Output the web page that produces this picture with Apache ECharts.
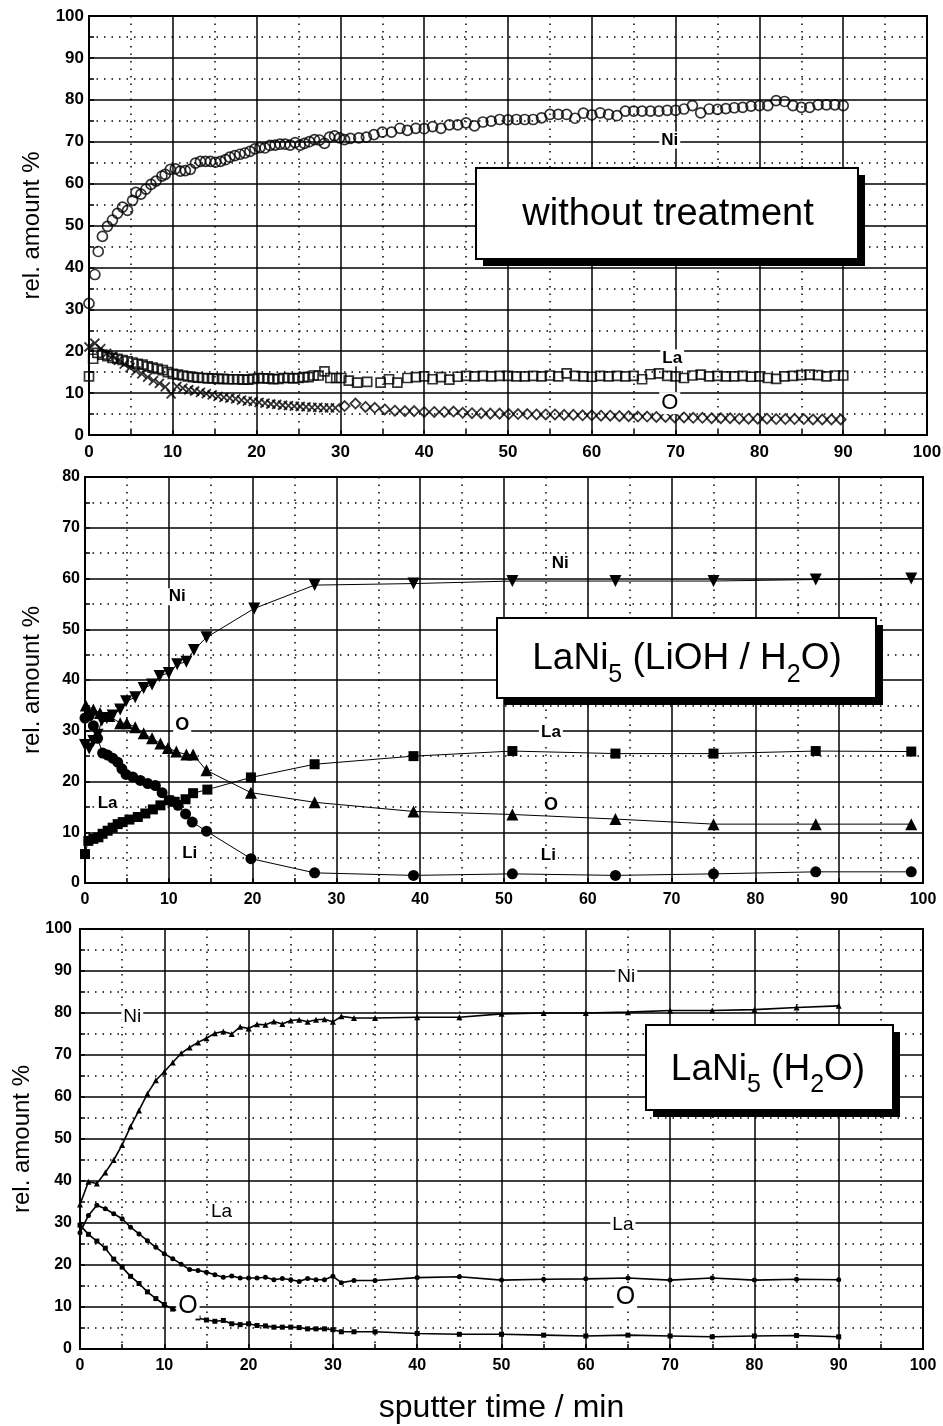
<!DOCTYPE html>
<html><head><meta charset="utf-8">
<script src="https://cdn.jsdelivr.net/npm/echarts@6/dist/echarts.min.js"></script>
<style>html,body{margin:0;padding:0;background:#fff}#c{width:943px;height:1426px}</style>
</head><body><div id="c"></div>
<script>
// ---------- DATA ----------
// Panel 1: without treatment
const p1Ni = [[0,31.4],[0.7,38.3],[1.1,43.8],[1.6,47.4],[2.2,49.8],[2.8,51.3],[3.4,52.9],[4.0,54.4],[4.6,53.6],[5.2,56],[5.6,57.9],[6.2,57.5],[6.8,58.7],[7.4,59.8],[8.0,60.6],[8.7,61.8],[9.1,62.2],[9.7,63.4],[10.3,63.5],[10.9,63],[11.5,63.1],[12.1,63.4],[12.7,64.9],[13.3,65.3],[13.9,65.3],[14.5,65.3],[15.1,65.1],[15.7,65.3],[16.3,65.7],[16.8,66.3],[17.4,66.7],[18.0,67],[18.6,67.3],[19.2,67.7],[19.8,68.3],[20.4,68.6],[21.0,68.5],[21.6,69.1],[22.2,69.2],[22.8,69.4],[23.4,69.4],[24.0,69.2],[24.6,69.8],[25.2,69.2],[25.7,69.6],[26.3,70],[26.9,70.5],[27.5,70.4],[28.1,69.6],[28.7,71.1],[29.3,71.4],[29.9,70.9],[30.5,70.5],[31.2,70.8],[32.2,70.9],[33.1,71.1],[34.0,71.7],[35.0,72.3],[36.1,72.3],[37.1,73.2],[38.0,72.7],[39.0,73.2],[40.0,73.1],[41.0,73.6],[42.0,73.2],[43.0,74],[44.0,74],[45.0,74.5],[46.0,73.8],[47,74.7],[48,74.9],[49,75.3],[50,75.2],[51,75.3],[52,75.3],[53,75.3],[54,75.7],[55,76.5],[56,76.5],[57,76.5],[58,75.6],[59,76.8],[60,76.4],[61,76.9],[62,76.5],[63,76.2],[64,77.3],[65,77.3],[66,77.3],[67,77.3],[68,77.3],[69,77.5],[70,77.5],[71,77.8],[72,78.6],[73,76.9],[74,77.8],[75,77.7],[76,77.9],[77,78.1],[78,78.2],[79,78.5],[80,78.6],[81,78.6],[82,79.8],[83,79.6],[84,78.6],[85,78.2],[86,78.2],[87,78.8],[88,78.8],[89,78.8],[90,78.6]];
const p1La = [[0,14],[0.5,18.2],[1.0,19.6],[1.6,19.2],[2.2,18.8],[2.8,18.4],[3.4,18.2],[4.0,17.9],[4.6,17.6],[5.2,17.3],[5.8,17.0],[6.4,16.8],[7.0,16.4],[7.6,16.1],[8.2,15.8],[8.8,15.5],[9.4,15.0],[10.0,14.6],[10.6,14.4],[11.2,14.2],[11.8,14.0],[12.4,13.8],[13.0,13.7],[13.6,13.6],[14.2,13.5],[14.8,13.5],[15.4,13.4],[16.0,13.4],[16.6,13.3],[17.2,13.3],[17.8,13.3],[18.4,13.2],[19.0,13.2],[19.6,13.4],[20.2,13.6],[20.8,13.5],[21.4,13.5],[22.0,13.3],[22.6,13.4],[23.2,13.6],[23.8,13.6],[24.4,13.5],[25.0,13.6],[25.6,13.8],[26.2,13.8],[26.8,14.2],[27.4,14.2],[28.1,15.2],[28.8,13.6],[29.5,13.6],[30.1,13.6],[31,13],[32,12.5],[33.2,12.7],[34.8,12.5],[35.8,13.3],[36.8,12.5],[38,13.6],[39,13.8],[40,14],[41,13.3],[42,13.8],[43,13.2],[44,13.9],[45,14.1],[46,14],[47,14.1],[48,14],[49,14.1],[50,14.1],[51,14],[52,14],[53,14.1],[54,14],[55,14.2],[56,14],[57,14.7],[58,14.1],[59,14],[60,13.9],[61,14.1],[62,14],[63,14.1],[64,14],[65,14.1],[66,13.3],[67,14.5],[68,14.7],[69,14.1],[70,14],[71,13.6],[72,14.2],[73,14.4],[74,14],[75,14.1],[76,14],[77,14],[78,14.1],[79,13.9],[80,14],[81,13.6],[82,13.4],[83,14],[84,14.1],[85,14.3],[86,14.4],[87,14.3],[88,14],[89,14.2],[90,14.2]];
const p1O = [[0,21],[0.7,21.9],[1.4,20.6],[2.1,19.5],[2.8,18.8],[3.5,17.8],[4.2,16.9],[4.9,16.1],[5.6,15.3],[6.3,14.6],[7.0,13.8],[7.7,13],[8.4,12.3],[9.1,11.5],[9.8,9.8],[10.5,11.6],[11.2,11.2],[11.9,10.8],[12.6,10.5],[13.3,10.2],[14.0,9.9],[14.7,9.6],[15.4,9.2],[16.1,9],[16.8,8.8],[17.5,8.6],[18.2,8.3],[18.9,8.1],[19.6,8],[20.3,7.8],[21.0,7.6],[21.7,7.4],[22.4,7.3],[23.1,7.1],[23.8,7],[24.5,6.9],[25.2,6.8],[25.9,6.7],[26.6,6.6],[27.3,6.6],[28.0,6.5],[28.7,6.5],[29.4,6.5],[30.5,6.9],[31.8,7.5],[33,6.7],[34.1,6.5],[35.3,6.1],[36.5,5.8],[37.7,5.7],[38.8,5.7],[40,5.5],[41.2,5.5],[42.4,5.5],[43.5,5.6],[44.6,5.3],[45.7,5.2],[46.8,5.2],[47.9,5.1],[49,5.1],[50.1,5.0],[51.2,5.0],[52.3,5.0],[53.4,4.9],[54.5,4.9],[55.6,4.9],[56.7,4.8],[57.8,4.8],[58.9,4.7],[60,4.7],[61.1,4.6],[62.2,4.6],[63.3,4.5],[64.4,4.5],[65.5,4.4],[66.6,4.4],[67.7,4.3],[68.8,4.3],[69.9,4.2],[71,4.2],[72.1,4.1],[73.2,4.1],[74.3,4.0],[75.4,4.0],[76.5,4.0],[77.6,3.9],[78.7,3.9],[79.8,3.9],[80.9,3.9],[82,3.8],[83.1,3.8],[84.2,3.8],[85.3,3.8],[86.4,3.7],[87.5,3.7],[88.6,3.7],[89.7,3.7]];
const p1Labels = [['Ni',69.3,70.4],['La',69.6,18.4],['O',69.3,7.6]];
const p1Title = ['without treatment'];

// Panel 2: LaNi5 (LiOH / H2O)
const p2Ni = [[0,27.2],[0.5,26.5],[1,28],[1.5,29.2],[2,32],[2.6,32.5],[3.3,33],[4.2,34.2],[4.9,35.8],[6,36.6],[7,38.4],[8,39.1],[8.9,40.8],[10,41.4],[11,43.1],[12.1,43.6],[13,45.9],[14.5,48.4],[20.2,54.1],[27.4,58.7],[39.2,59],[51,59.5],[63.3,59.5],[75,59.5],[87.2,59.8],[98.6,60]];
const p2La = [[0,5.7],[0.4,8.3],[1,8.7],[1.6,9],[2.1,9.7],[2.7,10.3],[3.3,10.9],[3.9,11.6],[4.5,12],[5.3,12.5],[6.3,13],[7.2,13.7],[8.1,14.5],[9,15.3],[10,16.3],[10.7,16],[12,16.5],[12.9,17.7],[14.6,18.4],[19.8,20.8],[27.4,23.4],[39.2,25],[51,26],[63.3,25.5],[75,25.5],[87.2,26],[98.6,25.9]];
const p2O = [[0.1,35],[1,34.2],[1.8,33.5],[2.9,32.9],[4.2,31.5],[5,31.5],[6,30.7],[7,29.5],[8,28.5],[9,27.5],[9.9,26.6],[10.9,25.9],[12.1,25.3],[12.9,25.3],[14.5,22.2],[19.8,17.8],[27.4,15.9],[39.2,14.1],[51,13.5],[63.3,12.6],[75,11.6],[87.2,11.6],[98.6,11.6]];
const p2Li = [[0,32.5],[0.5,33],[1,31],[1.5,28.5],[2.1,25.6],[2.7,25.2],[3.3,24.6],[3.9,23.8],[4.4,22.5],[4.9,21.4],[5.7,20.9],[6.6,20.2],[7.5,19.6],[8.4,19.2],[9.2,17.8],[10.3,16.2],[11.1,15.3],[12,13.6],[12.8,12],[14.5,10.2],[19.8,4.8],[27.4,2],[39.2,1.5],[51,1.8],[63.3,1.5],[75,1.8],[87.2,2.2],[98.6,2.2]];
const p2Labels = [['Ni',11,56.4],['O',11.6,31.1],['La',2.7,15.8],['Li',12.5,5.9],['Ni',56.7,62.9],['La',55.6,29.6],['O',55.6,15.4],['Li',55.3,5.5]];
const p2Title = ['LaNi','5',' (LiOH / H','2','O)'];

// Panel 3: LaNi5 (H2O)
const p3Ni = [[0,34.4],[1,39.8],[2,39.4],[3,42],[4,45],[5,48.6],[6,53],[7,56.8],[8,60.8],[9,64],[10,66],[11,68.2],[12,70.4],[13,71.8],[14,73],[15,74],[16,75.2],[17,75.6],[18,75],[19,76.7],[20,76.3],[21,77.3],[22,77.2],[23,78],[24,77.4],[25,78.2],[26,78.4],[27,77.9],[28,78.4],[29,78.5],[30,77.9],[31,79.2],[32.5,78.8],[35,78.8],[40,79],[45,79],[50,79.8],[55,80],[60,80],[65,80.2],[70,80.6],[75,80.6],[80,80.8],[85,81.3],[90,81.7]];
const p3La = [[0,27.7],[1,31.8],[2,34.2],[3,33.4],[4,32.2],[5,31],[6,29],[7,27.4],[8,25.8],[9,24.2],[10,22.7],[11,21.5],[12,20.2],[13,18.9],[14,18.7],[15,18.3],[16,17.7],[17,17.1],[18,17.4],[19,16.9],[20,16.9],[21,16.9],[22,17.1],[23,16.5],[24,16.8],[25,16.5],[26,16.1],[27,16.8],[28,16.5],[29,16.5],[30,17.3],[31,15.8],[32.5,16.3],[35,16.3],[40,17],[45,17.2],[50,16.4],[55,16.6],[60,16.7],[65,16.9],[70,16.4],[75,16.9],[80,16.4],[85,16.6],[90,16.5]];
const p3O = [[0,29.5],[1,27.3],[2,25.7],[3,24],[4,21.4],[5,19.5],[6,17.3],[7,15.6],[8,13.6],[9,12],[10,10.6],[11,9.5],[12,8.8],[13,8.2],[14,7.4],[15,6.9],[16,6.6],[17,6.8],[18,6],[19,5.8],[20,6],[21,5.6],[22,5.5],[23,5.2],[24,5.2],[25,5.2],[26,5.1],[27,4.8],[28,4.8],[29,4.8],[30,4.6],[31,4.1],[32.5,4.1],[35,4.1],[40,3.7],[45,3.5],[50,3.5],[55,3.3],[60,3.1],[65,3.3],[70,3.1],[75,2.9],[80,3.1],[85,3.2],[90,2.9]];
const p3Labels = [['Ni',6.2,79],['La',16.8,32.6],['O',12.8,10.2],['Ni',64.8,88.6],['La',64.4,29.5],['O',64.7,12.4]];
const p3Title = ['LaNi','5',' (H','2','O)'];

const xRange = [0, 100];
const yRanges = [[0, 100], [0, 80], [0, 100]];
const yAxisName = 'rel. amount %';
const xAxisName = 'sputter time / min';

// ---------- CHART ----------
const FONT = '"Liberation Sans", Arial, Helvetica, sans-serif';
const chart = echarts.init(document.getElementById('c'), null, {renderer: 'canvas'});

const gridsCfg = [
  {left: 89, top: 16, width: 838, height: 419},
  {left: 85, top: 477, width: 838, height: 406},
  {left: 80, top: 929, width: 843, height: 420}
];
const tickFont = [17, 16, 16];
const yLabMargin = [5, 5, 8];
const xLabMargin = [9, 9, 9];
const yNameGap = [44, 41, 43];

function xAxisFor(i) {
  const a = {
    type: 'value', gridIndex: i, min: xRange[0], max: xRange[1], interval: 10,
    axisLine: {show: true, onZero: false, lineStyle: {color: '#000', width: 2}},
    axisTick: {show: true, inside: true, length: 5, lineStyle: {color: '#000', width: 1.5}},
    minorTick: {show: true, splitNumber: 2, length: 5, lineStyle: {color: '#000', width: 1.5}},
    axisLabel: {color: '#000', fontSize: tickFont[i], fontWeight: 'bold', fontFamily: FONT, margin: xLabMargin[i]},
    splitLine: {show: true, lineStyle: {color: '#000', width: 1.5}},
    minorSplitLine: {show: true, lineStyle: {color: '#000', width: 1.5, type: [1.5, 6]}}
  };
  if (i === 2) {
    a.name = xAxisName; a.nameLocation = 'middle'; a.nameGap = 43;
    a.nameTextStyle = {fontSize: 32, fontFamily: FONT, color: '#000'};
  }
  return a;
}
function yAxisFor(i) {
  return {
    type: 'value', gridIndex: i, min: yRanges[i][0], max: yRanges[i][1], interval: 10,
    name: yAxisName, nameLocation: 'middle', nameGap: yNameGap[i], nameRotate: 90,
    nameTextStyle: {fontSize: 24, fontFamily: FONT, color: '#000'},
    axisLine: {show: true, onZero: false, lineStyle: {color: '#000', width: 2}},
    axisTick: {show: true, inside: true, length: 5, lineStyle: {color: '#000', width: 1.5}},
    minorTick: {show: true, splitNumber: 2, length: 5, lineStyle: {color: '#000', width: 1.5}},
    axisLabel: {color: '#000', fontSize: tickFont[i], fontWeight: 'bold', fontFamily: FONT, margin: yLabMargin[i]},
    splitLine: {show: true, lineStyle: {color: '#000', width: 1.5}},
    minorSplitLine: {show: true, lineStyle: {color: '#000', width: 1.5, type: [1.5, 6]}}
  };
}

const crossPath = 'path://M0,0L10,10M10,0L0,10';
const hollow = {color: 'rgba(0,0,0,0)', borderColor: '#000', borderWidth: 1.7};

const series = [
  // panel 1
  {type: 'scatter', xAxisIndex: 0, yAxisIndex: 0, data: p1Ni, symbol: 'circle', symbolSize: 10, itemStyle: hollow, silent: true},
  {type: 'scatter', xAxisIndex: 0, yAxisIndex: 0, data: p1La, symbol: 'rect', symbolSize: 9, itemStyle: hollow, silent: true},
  {type: 'scatter', xAxisIndex: 0, yAxisIndex: 0, data: p1O,
    symbol: v => (v[0] < 30 ? crossPath : 'diamond'),
    symbolSize: v => (v[0] < 30 ? 9 : [10, 10]),
    itemStyle: {color: 'rgba(0,0,0,0)', borderColor: '#000', borderWidth: 1.8}, silent: true},
  // panel 2
  {type: 'line', xAxisIndex: 1, yAxisIndex: 1, data: p2Ni, symbol: 'triangle', symbolRotate: 180, symbolSize: 12,
    showSymbol: true, itemStyle: {color: '#000'}, lineStyle: {color: '#000', width: 1}, silent: true},
  {type: 'line', xAxisIndex: 1, yAxisIndex: 1, data: p2La, symbol: 'rect', symbolSize: 10,
    showSymbol: true, itemStyle: {color: '#000'}, lineStyle: {color: '#000', width: 1}, silent: true},
  {type: 'line', xAxisIndex: 1, yAxisIndex: 1, data: p2O, symbol: 'triangle', symbolSize: 12,
    showSymbol: true, itemStyle: {color: '#000'}, lineStyle: {color: '#000', width: 1}, silent: true},
  {type: 'line', xAxisIndex: 1, yAxisIndex: 1, data: p2Li, symbol: 'circle', symbolSize: 11,
    showSymbol: true, itemStyle: {color: '#000'}, lineStyle: {color: '#000', width: 1}, silent: true},
  // panel 3
  {type: 'line', xAxisIndex: 2, yAxisIndex: 2, data: p3Ni, symbol: 'triangle', symbolSize: 6,
    showSymbol: true, itemStyle: {color: '#000'}, lineStyle: {color: '#000', width: 1.6}, silent: true},
  {type: 'line', xAxisIndex: 2, yAxisIndex: 2, data: p3La, symbol: 'circle', symbolSize: 5,
    showSymbol: true, itemStyle: {color: '#000'}, lineStyle: {color: '#000', width: 1.6}, silent: true},
  {type: 'line', xAxisIndex: 2, yAxisIndex: 2, data: p3O, symbol: 'rect', symbolSize: 5,
    showSymbol: true, itemStyle: {color: '#000'}, lineStyle: {color: '#000', width: 1.6}, silent: true}
];

// title boxes: text pieces alternate normal / subscript, laid out by measured widths
const measureCtx = document.createElement('canvas').getContext('2d');
function titleBox(rect, parts, cx, baseline, fs, sfs, drop) {
  const widths = parts.map((p, k) => {
    measureCtx.font = ((k % 2) ? sfs : fs) + 'px ' + FONT;
    return measureCtx.measureText(p).width;
  });
  const total = widths.reduce((a, b) => a + b, 0);
  let x = cx - total / 2;
  const texts = parts.map((p, k) => {
    const size = (k % 2) ? sfs : fs;
    const base = (k % 2) ? baseline + drop : baseline;
    const el = {type: 'text', x: x, y: base - 0.3465 * size, z: 102,
      style: {text: p, fontSize: size, fontFamily: FONT, fill: '#000', align: 'left', verticalAlign: 'middle'}};
    x += widths[k];
    return el;
  });
  return {
    type: 'group',
    children: [
      {type: 'rect', shape: {x: rect[0] + 7, y: rect[1] + 7, width: rect[2], height: rect[3]}, style: {fill: '#000'}, z: 100},
      {type: 'rect', shape: {x: rect[0], y: rect[1], width: rect[2], height: rect[3]}, style: {fill: '#fff', stroke: '#000', lineWidth: 2}, z: 101}
    ].concat(texts)
  };
}

const option = {
  backgroundColor: '#fff',
  animation: false,
  grid: gridsCfg.map(g => Object.assign({show: true, borderColor: '#000', borderWidth: 2, backgroundColor: 'transparent', containLabel: false, outerBoundsMode: 'none'}, g)),
  xAxis: [0, 1, 2].map(xAxisFor),
  yAxis: [0, 1, 2].map(yAxisFor),
  series: series
};
chart.setOption(option);

// element labels, placed through the axes' own coordinate conversion
const labelStyles = [
  {Ni: [17, 'bold'], La: [17, 'bold'], O: [22, 'normal']},
  {Ni: [17, 'bold'], La: [17, 'bold'], O: [18, 'bold'], Li: [17, 'bold']},
  {Ni: [19, 'normal'], La: [19, 'normal'], O: [25, 'normal']}
];
const labelGraphics = [];
[p1Labels, p2Labels, p3Labels].forEach((arr, i) => {
  arr.forEach(d => {
    const pt = chart.convertToPixel({gridIndex: i}, [d[1], d[2]]);
    const st = labelStyles[i][d[0]];
    labelGraphics.push({
      type: 'text', x: pt[0], y: pt[1], z: 50,
      style: {text: d[0], fontSize: st[0], fontWeight: st[1], fontFamily: FONT, fill: '#000',
        align: 'center', verticalAlign: 'middle', backgroundColor: '#fff', padding: [0, 2]}
    });
  });
});

chart.setOption({
  graphic: labelGraphics.concat([
    titleBox([476, 168, 382, 91], p1Title, 668, 228, 38, 24, 0),
    titleBox([497, 618, 379, 80], p2Title, 687, 672, 37, 25, 12),
    titleBox([646, 1025, 247, 85], p3Title, 768, 1083, 37, 25, 11)
  ])
});
</script>
</body></html>
